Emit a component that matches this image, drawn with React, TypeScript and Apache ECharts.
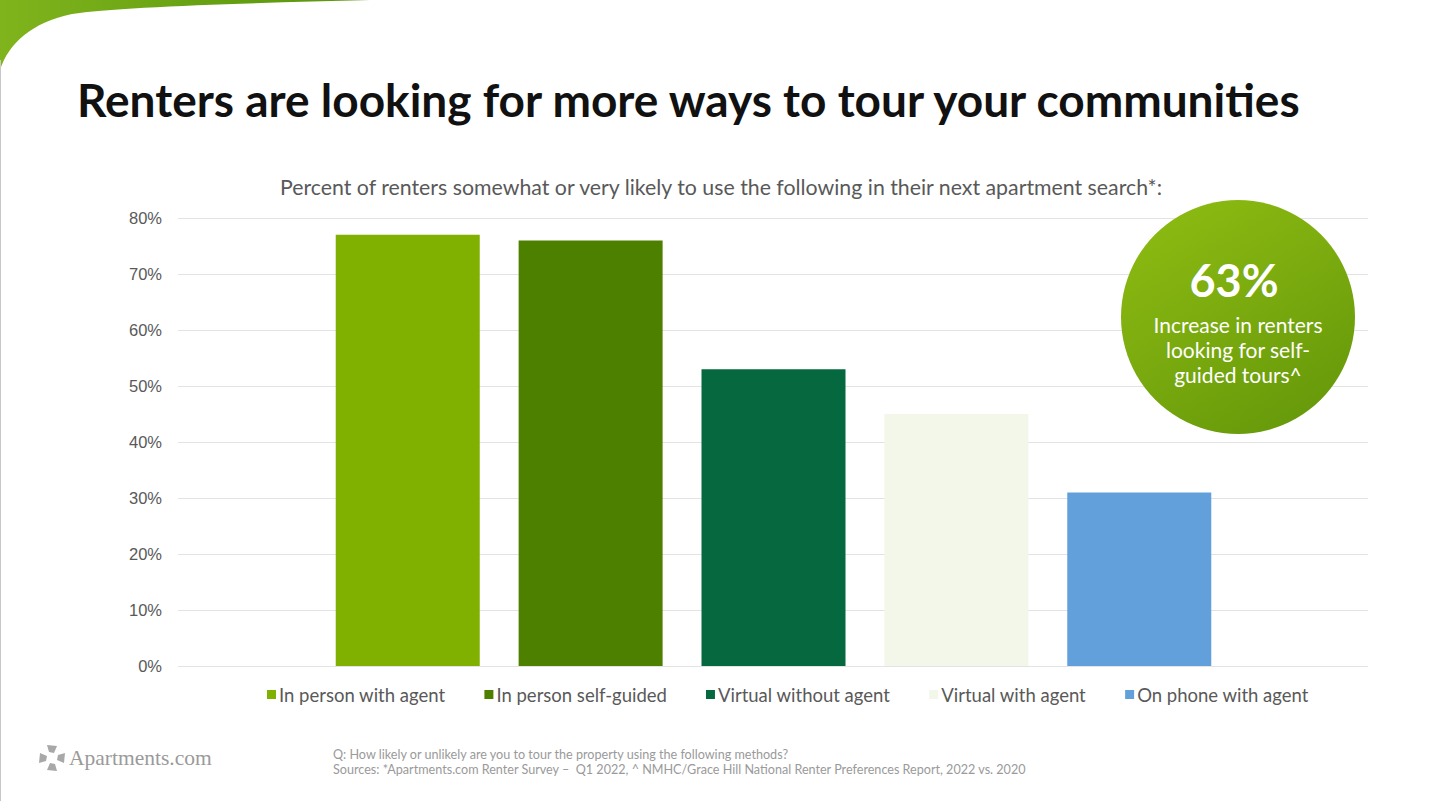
import React, { useEffect, useRef } from "react";
import * as echarts from "echarts";

const categories = ["Tour methods"];
const seriesNames = [
  "In person with agent",
  "In person self-guided",
  "Virtual without agent",
  "Virtual with agent",
  "On phone with agent",
];
const seriesValues = [77, 76, 53, 45, 31];
const seriesColors = ["#80b000", "#4e8000", "#05683f", "#f2f7ea", "#62a0dc"];
const yTicks = { min: 0, max: 80, interval: 10 };

const titleText = "Renters are looking for more ways to tour your communities";
const subtitleText =
  "Percent of renters somewhat or very likely to use the following in their next apartment search*:";
const calloutValue = "63%";
const calloutLines = ["Increase in renters", "looking for self-", "guided tours^"];
const footLines = [
  "Q: How likely or unlikely are you to tour the property using the following methods?",
  "Sources: *Apartments.com Renter Survey \u2013  Q1 2022, ^ NMHC/Grace Hill National Renter Preferences Report, 2022 vs. 2020",
];

echarts.graphic.registerShape(
  "cornerShape",
  echarts.graphic.extendPath(
    "M0,0 L370,0 C250,3 115,7 72,14 C32,22 8,44 0,70 Z",
    {}
  )
);
echarts.graphic.registerShape(
  "logoShape",
  echarts.graphic.extendPath(
    "M9,1 L19,2 L16,9 L11,8 Z M27,9 L26,19 L19,16 L20,11 Z M19,27 L9,26 L12,19 L17,20 Z M1,19 L2,9 L9,12 L8,17 Z",
    {}
  )
);

export default function App() {
  const ref = useRef<HTMLDivElement>(null);
  useEffect(() => {
    if (!ref.current) return;
    const chart = echarts.init(ref.current, null, { renderer: "svg" });
    const font = "Lato, 'Noto Sans', sans-serif";
    const option: any = {
      animation: false,
      backgroundColor: "#ffffff",
      legend: {
        left: 267,
        top: 685,
        icon: "rect",
        itemWidth: 9,
        itemHeight: 9,
        itemGap: 39,
        padding: 0,
        textStyle: { fontFamily: font, fontSize: 18.5, color: "#595959", padding: [0, 0, 0, -2] },
        data: seriesNames,
      },
      grid: [
        { left: 178, right: 62, top: 218, bottom: 135 },
        { left: 300, right: 183, top: 218, bottom: 135 },
      ],
      xAxis: [
        { type: "category", gridIndex: 0, data: categories, show: false },
        { type: "category", gridIndex: 1, data: categories, show: false },
      ],
      yAxis: [
        {
          type: "value",
          gridIndex: 0,
          min: yTicks.min,
          max: yTicks.max,
          interval: yTicks.interval,
          axisLine: { show: false },
          axisTick: { show: false },
          axisLabel: {
            formatter: "{value}%",
            fontFamily: "'Liberation Sans', Arial, sans-serif",
            fontSize: 16.5,
            color: "#595959",
            margin: 16,
          },
          splitLine: { lineStyle: { color: "#e3e3e3", width: 1 } },
        },
        {
          type: "value",
          gridIndex: 1,
          min: yTicks.min,
          max: yTicks.max,
          interval: yTicks.interval,
          show: false,
          splitLine: { show: false },
        },
      ],
      series: seriesNames.map((name, i) => ({
        type: "bar",
        name,
        xAxisIndex: 1,
        yAxisIndex: 1,
        data: [seriesValues[i]],
        barWidth: 144,
        barGap: "27%",
        itemStyle: { color: seriesColors[i] },
      })),
      graphic: [
        {
          type: "cornerShape",
          x: 0,
          y: 0,
          z: 100,
          style: {
            fill: new echarts.graphic.LinearGradient(0, 0, 1, 0, [
              { offset: 0, color: "#80b41c" },
              { offset: 0.6, color: "#65a012" },
              { offset: 1, color: "#5c9410" },
            ]),
          },
        },
        {
          type: "line",
          z: 100,
          shape: { x1: 0.5, y1: 60, x2: 0.5, y2: 801 },
          style: { stroke: "#c8c8c8", lineWidth: 1 },
        },
        {
          type: "text",
          x: 77,
          y: 99,
          z: 100,
          style: {
            text: titleText,
            fontFamily: font,
            fontWeight: "bold",
            fontSize: 46,
            fill: "#111111",
            textVerticalAlign: "middle",
          },
        },
        {
          type: "text",
          x: 721,
          y: 187,
          z: 100,
          style: {
            text: subtitleText,
            fontFamily: font,
            fontSize: 21.3,
            fill: "#595959",
            textAlign: "center",
            textVerticalAlign: "middle",
          },
        },
        {
          type: "circle",
          z: 100,
          shape: { cx: 1238, cy: 317, r: 117 },
          style: {
            fill: new echarts.graphic.LinearGradient(0.2, 0, 0.8, 1, [
              { offset: 0, color: "#8dbb12" },
              { offset: 1, color: "#65980a" },
            ]),
          },
        },
        {
          type: "text",
          x: 1234,
          y: 280,
          z: 101,
          style: {
            text: calloutValue,
            fontFamily: font,
            fontWeight: "bold",
            fontSize: 45,
            fill: "#ffffff",
            textAlign: "center",
            textVerticalAlign: "middle",
          },
        },
        ...calloutLines.map((t, i) => ({
          type: "text",
          x: 1238,
          y: 324 + i * 25,
          z: 101,
          style: {
            text: t,
            fontFamily: font,
            fontSize: 21,
            fill: "#ffffff",
            textAlign: "center",
            textVerticalAlign: "middle",
          },
        })),
        {
          type: "logoShape",
          x: 38,
          y: 744,
          z: 100,
          style: { fill: "#a8a8a8" },
        },
        {
          type: "text",
          x: 69,
          y: 758,
          z: 100,
          style: {
            text: "Apartments.com",
            fontFamily: "'Liberation Serif', serif",
            fontSize: 21.5,
            fill: "#9a9a9a",
            textVerticalAlign: "middle",
          },
        },
        ...footLines.map((t, i) => ({
          type: "text",
          x: 333,
          y: 754 + i * 15,
          z: 100,
          style: {
            text: t,
            fontFamily: font,
            fontSize: 12.6,
            fill: "#9a9a9a",
            textVerticalAlign: "middle",
          },
        })),
      ],
    };
    chart.setOption(option);
    return () => chart.dispose();
  }, []);
  return (
    <div
      ref={ref}
      style={{ position: "fixed", left: 0, top: 0, width: 1430, height: 801 }}
    />
  );
}
